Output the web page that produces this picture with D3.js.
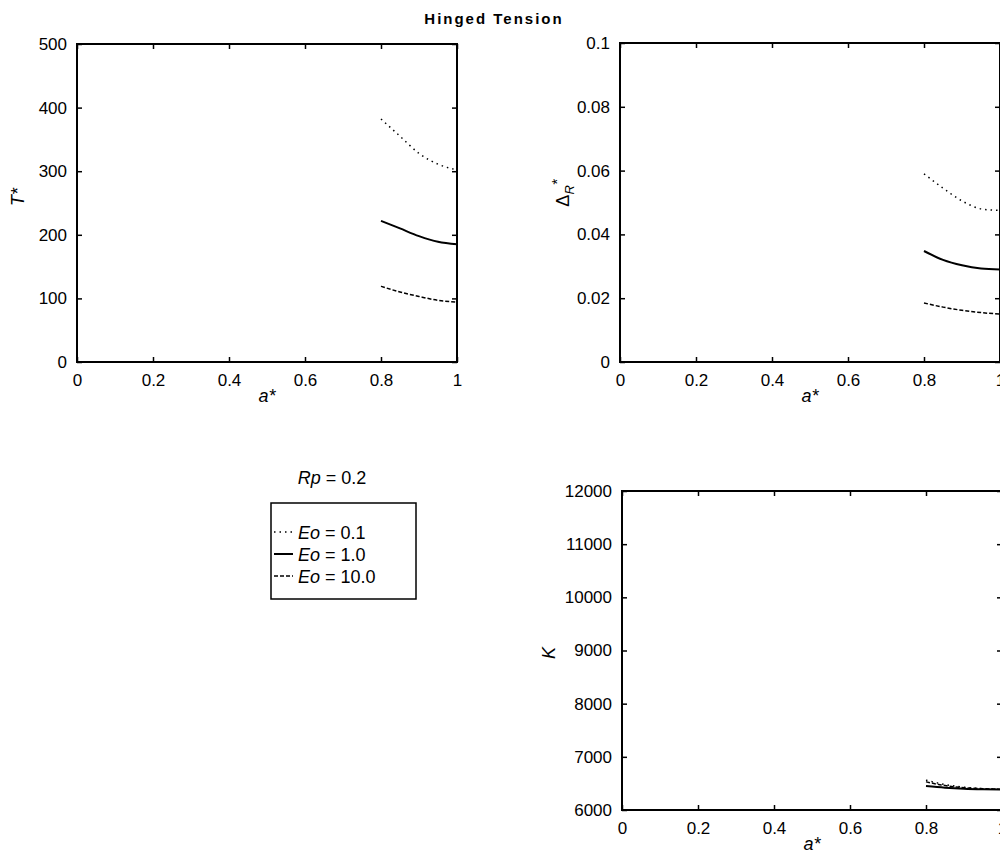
<!DOCTYPE html>
<html>
<head>
<meta charset="utf-8">
<script src="https://cdn.jsdelivr.net/npm/d3@7"></script>
<style>
  body { margin: 0; background: #fff; }
  svg text { font-family: "Liberation Sans", Arial, sans-serif; fill: #000; }
</style>
</head>
<body>
<script>
// values
const aVals = [0.8, 0.85, 0.9, 0.95, 1.0];
const xTicks = [0, 0.2, 0.4, 0.6, 0.8, 1];

const tEo01 = [382, 355, 328, 311, 302];
const tEo1 = [222, 210, 198, 189, 185];
const tEo10 = [119, 110, 103, 97, 94];

const dEo01 = [0.059, 0.0545, 0.0505, 0.048, 0.0475];
const dEo1 = [0.0348, 0.032, 0.0303, 0.0293, 0.029];
const dEo10 = [0.0185, 0.0172, 0.0162, 0.0155, 0.015];

const kEo01 = [6560, 6480, 6430, 6400, 6390];
const kEo1 = [6450, 6420, 6400, 6390, 6385];
const kEo10 = [6530, 6460, 6420, 6400, 6390];

const tTicks = [0, 100, 200, 300, 400, 500];
const dTicks = [0, 0.02, 0.04, 0.06, 0.08, 0.1];
const kTicks = [6000, 7000, 8000, 9000, 10000, 11000, 12000];

const seriesNames = ["Eo = 0.1", "Eo = 1.0", "Eo = 10.0"];
const dashes = ["1.5,4", null, "4,2"];
const widths = [1.5, 2, 1.5];

const svg = d3.select("body").append("svg")
  .attr("width", 1000)
  .attr("height", 860);

// title
svg.append("text")
  .attr("x", 494).attr("y", 24)
  .attr("text-anchor", "middle")
  .style("font-size", "15px")
  .style("font-weight", "900")
  .style("letter-spacing", "2px")
  .text("Hinged Tension");

function drawPanel(opt) {
  const x = d3.scaleLinear().domain([0, 1]).range(opt.xr);
  const y = d3.scaleLinear().domain(opt.yd).range(opt.yr);
  const g = svg.append("g");

  const fmt = d => String(d);

  g.append("g")
    .attr("transform", `translate(0,${opt.yr[0]})`)
    .call(d3.axisBottom(x).tickValues(xTicks).tickFormat(fmt).tickSizeInner(-5).tickSizeOuter(0).tickPadding(12));
  g.append("g")
    .attr("transform", `translate(0,${opt.yr[1]})`)
    .call(d3.axisTop(x).tickValues(xTicks).tickFormat("").tickSizeInner(-5).tickSizeOuter(0));
  g.append("g")
    .attr("transform", `translate(${opt.xr[0]},0)`)
    .call(d3.axisLeft(y).tickValues(opt.yt).tickFormat(fmt).tickSizeInner(-5).tickSizeOuter(0).tickPadding(10));
  g.append("g")
    .attr("transform", `translate(${opt.xr[1]},0)`)
    .call(d3.axisRight(y).tickValues(opt.yt).tickFormat("").tickSizeInner(-5).tickSizeOuter(0));

  g.selectAll(".tick line").attr("stroke", "#000").attr("stroke-width", 1.5);
  g.selectAll(".domain").remove();
  g.selectAll(".tick text").style("font-size", "17px").attr("fill", "#000");

  g.append("rect")
    .attr("x", opt.xr[0]).attr("y", opt.yr[1])
    .attr("width", opt.xr[1] - opt.xr[0])
    .attr("height", opt.yr[0] - opt.yr[1])
    .attr("fill", "none")
    .attr("stroke", "#000")
    .attr("stroke-width", 2);

  const line = d3.line()
    .x((d, i) => x(aVals[i]))
    .y(d => y(d))
    .curve(d3.curveMonotoneX);

  opt.series.forEach((s, i) => {
    g.append("path")
      .attr("d", line(s))
      .attr("fill", "none")
      .attr("stroke", "#000")
      .attr("stroke-width", widths[i])
      .attr("stroke-dasharray", dashes[i]);
  });

  // x label
  g.append("text")
    .attr("x", (opt.xr[0] + opt.xr[1]) / 2)
    .attr("y", opt.yr[0] + 40)
    .attr("text-anchor", "middle")
    .style("font-size", "18px")
    .style("font-style", "italic")
    .text("a*");

  // y label
  const yl = g.append("text")
    .attr("transform", `translate(${opt.ylx},${opt.yly}) rotate(-90)`)
    .attr("text-anchor", "middle")
    .style("font-size", "18px")
    .style("font-style", "italic");
  opt.ylabel(yl);
}

drawPanel({
  xr: [77, 457], yr: [362, 44], yd: [0, 500], yt: tTicks,
  series: [tEo01, tEo1, tEo10],
  ylx: 24, yly: 197,
  ylabel: t => t.text("T*")
});

drawPanel({
  xr: [620, 1000], yr: [362, 43], yd: [0, 0.1], yt: dTicks,
  series: [dEo01, dEo1, dEo10],
  ylx: 569, yly: 193,
  ylabel: t => {
    t.append("tspan").style("font-style", "normal").text("Δ");
    t.append("tspan").attr("dy", 5).style("font-size", "13px").text("R");
    t.append("tspan").attr("dy", -12).style("font-size", "15px").text("*");
  }
});

drawPanel({
  xr: [622, 1002], yr: [810, 491], yd: [6000, 12000], yt: kTicks,
  series: [kEo01, kEo1, kEo10],
  ylx: 555, yly: 653,
  ylabel: t => t.text("K")
});

// legend
svg.append("text")
  .attr("x", 332).attr("y", 484)
  .attr("text-anchor", "middle")
  .style("font-size", "18px")
  .call(t => {
    t.append("tspan").style("font-style", "italic").text("Rp");
    t.append("tspan").text(" = 0.2");
  });

const lg = svg.append("g");
lg.append("rect")
  .attr("x", 271).attr("y", 503)
  .attr("width", 145).attr("height", 96)
  .attr("fill", "none")
  .attr("stroke", "#000")
  .attr("stroke-width", 1.5);

seriesNames.forEach((name, i) => {
  const yy = 532 + i * 22;
  lg.append("line")
    .attr("x1", 274).attr("x2", 293)
    .attr("y1", yy).attr("y2", yy)
    .attr("stroke", "#000")
    .attr("stroke-width", widths[i])
    .attr("stroke-dasharray", dashes[i]);
  const parts = name.split(" = ");
  lg.append("text")
    .attr("x", 298).attr("y", yy + 7)
    .style("font-size", "18px")
    .call(t => {
      t.append("tspan").style("font-style", "italic").text(parts[0]);
      t.append("tspan").text(" = " + parts[1]);
    });
});
</script>
</body>
</html>
